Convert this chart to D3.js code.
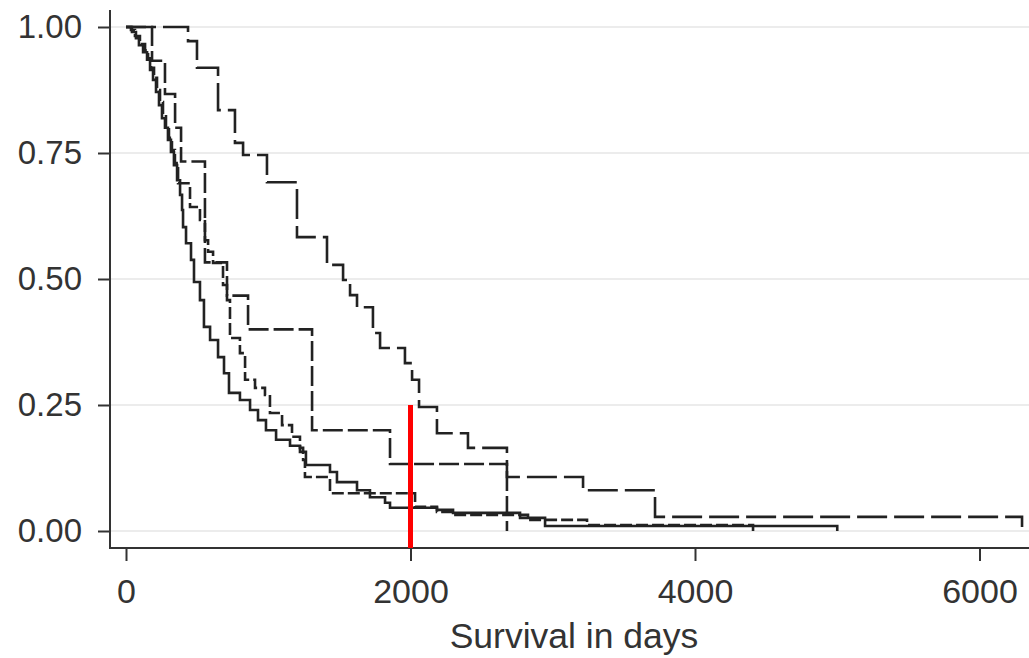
<!DOCTYPE html>
<html>
<head>
<meta charset="utf-8">
<script src="https://cdn.jsdelivr.net/npm/d3@7"></script>
<style>
  html, body { margin: 0; padding: 0; background: #fff; }
  svg { display: block; }
  text { font-family: "Liberation Sans", Arial, sans-serif; fill: #333; }
</style>
</head>
<body>
<div id="chart"></div>
<script>
// ---------- data ----------
const xTicks = [0, 2000, 4000, 6000];
const yTicks = [0, 0.25, 0.5, 0.75, 1];
const xTitle = "Survival in days";

// group 1: solid line
const g1Times = [0,42,70,91,120,148,169,190,211,232,253,274,295,316,337,359,380,394,401,422,457,478,520,548,591,647,689,724,801,872,928,984,1055,1153,1223,1265,1434,1483,1624,1715,1821,1856,2186,2299,2770,2946,5000];
const g1Surv  = [1,0.990,0.978,0.964,0.950,0.935,0.915,0.895,0.871,0.845,0.819,0.800,0.776,0.752,0.726,0.696,0.667,0.637,0.603,0.571,0.538,0.494,0.458,0.405,0.379,0.345,0.313,0.274,0.260,0.240,0.220,0.200,0.181,0.169,0.157,0.131,0.117,0.097,0.081,0.067,0.056,0.046,0.042,0.036,0.026,0.010,0];

// group 2: short dash
const g2Times = [0,35,63,98,134,155,176,197,218,239,260,281,302,323,344,366,450,520,555,577,612,682,710,731,801,837,907,977,1012,1097,1167,1223,1245,1258,1434,2032,2186,2292,2826,3241,4408];
const g2Surv  = [1,0.994,0.982,0.966,0.954,0.938,0.919,0.899,0.875,0.851,0.827,0.804,0.780,0.756,0.730,0.690,0.643,0.617,0.577,0.554,0.532,0.488,0.458,0.383,0.353,0.300,0.284,0.270,0.234,0.210,0.187,0.165,0.141,0.107,0.075,0.048,0.038,0.032,0.022,0.012,0];

// group 3: medium dash
const g3Times = [0,183,274,345,387,555,710,858,1308,1856,2678];
const g3Surv  = [1,0.933,0.867,0.800,0.733,0.533,0.467,0.400,0.200,0.133,0];

// group 4: long dash
const g4Times = [0,436,499,647,766,823,991,1202,1413,1526,1575,1624,1736,1786,1961,2011,2060,2186,2404,2678,3213,3719,6299];
const g4Surv  = [1,0.972,0.919,0.835,0.770,0.746,0.692,0.583,0.528,0.498,0.468,0.444,0.393,0.363,0.333,0.300,0.246,0.194,0.165,0.107,0.081,0.028,0.008];

// red marker
const markerTime = 2000;
const markerTop = 0.25;

// ---------- drawing ----------
const W = 1029, H = 658;
const axisX = 110, axisY = 548;

const svg = d3.select("#chart").append("svg")
  .attr("width", W).attr("height", H);

const x = d3.scaleLinear().domain([0, 6000]).range([126, 979.5]);
const y = d3.scaleLinear().domain([0, 1]).range([531, 27]);

// gridlines
svg.append("g").selectAll("line").data(yTicks).join("line")
  .attr("x1", axisX + 1).attr("x2", W)
  .attr("y1", d => y(d)).attr("y2", d => y(d))
  .attr("stroke", "#ececec").attr("stroke-width", 2);

// y axis
const yAxis = svg.append("g").attr("transform", `translate(${axisX},0)`)
  .call(d3.axisLeft(y).tickValues(yTicks).tickFormat(d3.format(".2f"))
    .tickSize(12).tickPadding(16).tickSizeOuter(0));
yAxis.select(".domain").remove();
yAxis.selectAll(".tick line").attr("stroke", "#333").attr("stroke-width", 2);
yAxis.selectAll(".tick text").attr("font-size", 33).attr("fill", "#333")
  .attr("font-family", "Liberation Sans, Arial, sans-serif");

// x axis
const xAxis = svg.append("g").attr("transform", `translate(0,${axisY})`)
  .call(d3.axisBottom(x).tickValues(xTicks).tickFormat(d3.format("d"))
    .tickSize(13).tickPadding(18).tickSizeOuter(0));
xAxis.select(".domain").remove();
xAxis.selectAll(".tick line").attr("stroke", "#333").attr("stroke-width", 2);
xAxis.selectAll(".tick text").attr("font-size", 34).attr("fill", "#333")
  .attr("font-family", "Liberation Sans, Arial, sans-serif");

// axis lines
svg.append("line").attr("x1", axisX).attr("x2", axisX).attr("y1", 10).attr("y2", axisY + 1)
  .attr("stroke", "#333").attr("stroke-width", 2);
svg.append("line").attr("x1", axisX - 1).attr("x2", W).attr("y1", axisY).attr("y2", axisY)
  .attr("stroke", "#333").attr("stroke-width", 2);

// x title
svg.append("text").attr("x", 574).attr("y", 648)
  .attr("text-anchor", "middle").attr("font-size", 35.5).text(xTitle);

// survival curves
const line = d3.line().x(d => x(d[0])).y(d => y(d[1])).curve(d3.curveStepAfter);
const groups = [
  { t: g1Times, s: g1Surv, dash: null },
  { t: g2Times, s: g2Surv, dash: "12,4" },
  { t: g3Times, s: g3Surv, dash: "20,5" },
  { t: g4Times, s: g4Surv, dash: "30,7" }
];
groups.forEach(g => {
  const pts = g.t.map((t, i) => [t, g.s[i]]);
  svg.append("path").datum(pts)
    .attr("d", line)
    .attr("fill", "none")
    .attr("stroke", "#222")
    .attr("stroke-width", 2.6)
    .attr("stroke-dasharray", g.dash);
});

// red vertical marker
svg.append("line")
  .attr("x1", x(markerTime)).attr("x2", x(markerTime))
  .attr("y1", y(markerTop)).attr("y2", axisY)
  .attr("stroke", "#ff0000").attr("stroke-width", 5);
</script>
</body>
</html>
